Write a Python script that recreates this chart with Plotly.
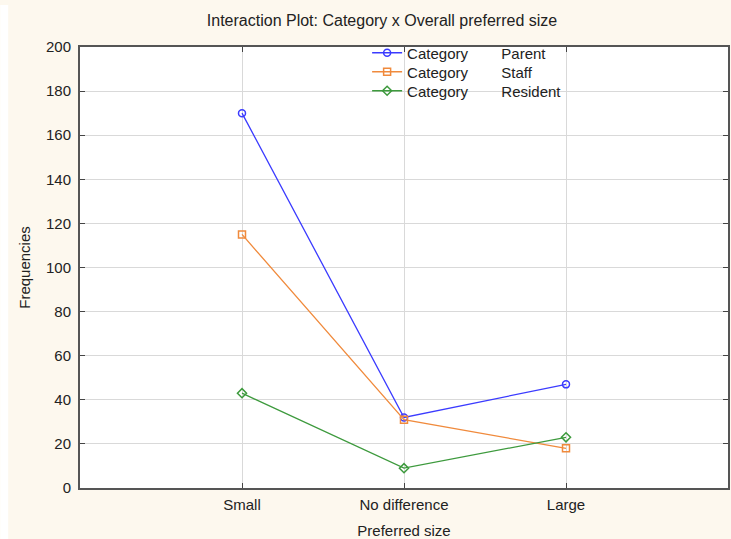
import plotly.graph_objects as go

categories = ["Small", "No difference", "Large"]
parent = [170, 32, 47]
staff = [115, 31, 18]
resident = [43, 9, 23]
y_ticks = [0, 20, 40, 60, 80, 100, 120, 140, 160, 180, 200]

L, R, T, B = 80, 1, 47, 51
W, H = 731, 539
pw, ph = W - L - R, H - T - B

font = "Liberation Sans, Arial, sans-serif"
sp = "&nbsp;" * 8
series = [
    ("Category" + sp + "Parent", parent, "#3b3bff", "circle-open", "legend", 53),
    ("Category" + sp + "Staff", staff, "#f08a3c", "square-open", "legend2", 72),
    ("Category" + sp + "Resident", resident, "#3d9a3d", "diamond-open", "legend3", 91),
]

fig = go.Figure()
legends = {}
for name, vals, col, sym, lg, ypx in series:
    fig.add_trace(go.Scatter(
        x=list(range(len(categories))), y=vals, name=name,
        mode="lines+markers", legend=lg,
        line=dict(color=col, width=1.3),
        marker=dict(symbol=sym, size=7, color=col, line=dict(width=1.5, color=col)),
    ))
    legends[lg] = dict(x=(368 - L) / pw, y=1 - (ypx - T) / ph, xanchor="left",
                       yanchor="middle", bgcolor="rgba(0,0,0,0)",
                       font=dict(size=15, color="#222"), itemwidth=30,
                       borderwidth=0)

fig.update_layout(
    width=W, height=H,
    margin=dict(l=L, r=R, t=T, b=B),
    paper_bgcolor="#fdf8ee",
    plot_bgcolor="white",
    font=dict(family=font, size=15, color="#222"),
    title=dict(text="Interaction Plot: Category x Overall preferred size",
               x=382 / W, xanchor="center", y=1 - 20 / H, yanchor="middle",
               font=dict(size=16, color="#222")),
    showlegend=True,
    xaxis=dict(
        tickmode="array", tickvals=list(range(len(categories))), ticktext=categories,
        range=[-1, 3], showgrid=True, gridcolor="#d9d9d9", gridwidth=1,
        showline=True, linecolor="#555", linewidth=2, mirror="ticks",
        ticks="inside", ticklen=5, tickcolor="#444", zeroline=False,
        ticklabelstandoff=2, tickfont=dict(size=15),
        title=dict(text="Preferred size", standoff=14, font=dict(size=15)),
    ),
    yaxis=dict(
        tickmode="array", tickvals=y_ticks, range=[0, 200],
        showgrid=True, gridcolor="#d9d9d9", gridwidth=1,
        showline=True, linecolor="#555", linewidth=2, mirror="ticks",
        ticks="inside", ticklen=5, tickcolor="#444", zeroline=False,
        ticklabelstandoff=4, tickfont=dict(size=15),
        title=dict(text="Frequencies", standoff=12, font=dict(size=15)),
    ),
    shapes=[dict(type="rect", xref="paper", yref="paper",
                 x0=-L / pw, x1=(8 - L) / pw, y0=-B / ph, y1=1 + (T - 5) / ph,
                 fillcolor="white", line=dict(width=0), layer="below")],
)
for k, v in legends.items():
    fig.update_layout({k: v})

fig.write_html("out.html", config={"displayModeBar": False},
               post_script="document.body.style.margin='0';")
